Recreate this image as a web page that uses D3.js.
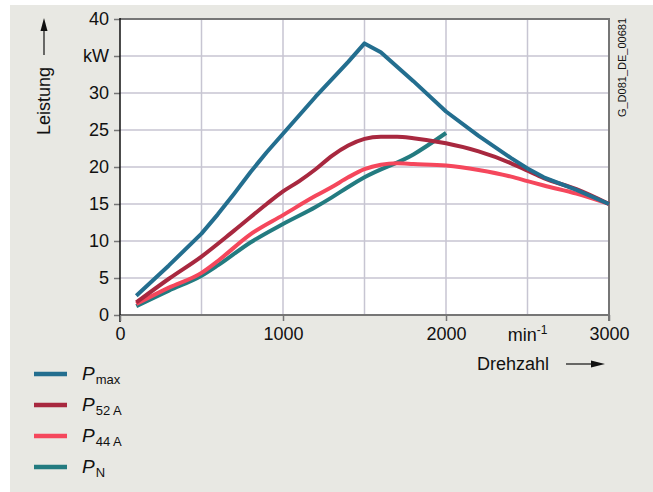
<!DOCTYPE html>
<html><head><meta charset="utf-8">
<script src="https://cdn.jsdelivr.net/npm/d3@7"></script>
<style>body{margin:0;background:#fff}svg{display:block;font-family:"Liberation Sans",Arial,sans-serif}</style>
</head><body><svg id="c" width="653" height="492"></svg>
<script>
// Data
const speedPmax = [100,300,500,600,700,800,900,1000,1200,1400,1500,1600,1800,2000,2200,2400,2500,2600,2800,3000];
const valPmax   = [2.6,6.7,11.0,13.6,16.4,19.3,22.0,24.5,29.5,34.2,36.7,35.5,31.6,27.5,24.2,21.2,19.8,18.6,16.9,15.0];
const speedP52  = [100,300,500,700,900,1000,1100,1200,1300,1400,1500,1600,1700,1800,2000,2200,2400,2500,2600,2800,3000];
const valP52    = [1.7,4.9,7.9,11.4,15.0,16.7,18.1,19.7,21.5,22.9,23.8,24.1,24.1,23.9,23.2,22.1,20.5,19.5,18.5,17.0,15.0];
const speedP44  = [100,300,500,600,800,1000,1200,1300,1400,1500,1600,1700,1800,2000,2200,2400,2500,2600,2800,3000];
const valP44    = [1.5,3.7,5.7,7.3,10.9,13.5,16.1,17.3,18.6,19.7,20.3,20.5,20.4,20.2,19.6,18.7,18.1,17.5,16.4,15.0];
const speedPN   = [100,300,500,600,800,1000,1200,1300,1400,1500,1800,2000];
const valPN     = [1.2,3.3,5.3,6.7,9.8,12.3,14.6,15.9,17.3,18.6,21.7,24.6];
const yTicks = [0,5,10,15,20,25,30,35,40];
const yTickLabels = ["0","5","10","15","20","25","30","kW","40"];
const xGrid = [500,1000,1500,2000,2500];
const xTicks = [0,1000,2000,3000];
const xTickLabels = ["0","1000","2000","3000"];
const seriesNames = [["P","max"],["P","52 A"],["P","44 A"],["P","N"]];
const colors = ["#236e8f","#a8283f","#f5475c","#237b80"];

const svg = d3.select("#c");
svg.append("rect").attr("x",10).attr("y",5).attr("width",643).attr("height",487).attr("fill","#e8e8e3");

const x = d3.scaleLinear().domain([0,3000]).range([120,609]);
const y = d3.scaleLinear().domain([0,40]).range([315,19]);

svg.append("rect").attr("x",x(0)).attr("y",y(40)).attr("width",x(3000)-x(0)).attr("height",y(0)-y(40)).attr("fill","#fff");

// grid
svg.selectAll(".hg").data(yTicks.filter(d=>d>0&&d<40)).enter().append("line")
  .attr("x1",x(0)).attr("x2",x(3000)).attr("y1",d=>y(d)).attr("y2",d=>y(d))
  .attr("stroke","#c7c5d2").attr("stroke-width",1.5);
svg.selectAll(".vg").data(xGrid).enter().append("line")
  .attr("x1",d=>x(d)).attr("x2",d=>x(d)).attr("y1",y(0)).attr("y2",y(40))
  .attr("stroke","#c7c5d2").attr("stroke-width",1.5);

// frame
const fc="#767676";
svg.append("line").attr("x1",x(0)).attr("x2",x(3000)).attr("y1",y(40)).attr("y2",y(40)).attr("stroke",fc).attr("stroke-width",2);
svg.append("line").attr("x1",x(3000)).attr("x2",x(3000)).attr("y1",y(40)-1).attr("y2",y(0)+6).attr("stroke",fc).attr("stroke-width",2);
svg.append("line").attr("x1",x(0)).attr("x2",x(3000)).attr("y1",y(0)).attr("y2",y(0)).attr("stroke",fc).attr("stroke-width",2);

// axes
const yAxis = d3.axisLeft(y).tickValues(yTicks).tickFormat((d,i)=>yTickLabels[i]).tickSize(6).tickPadding(5);
const gy = svg.append("g").attr("transform",`translate(${x(0)},0)`).call(yAxis);
gy.select(".domain").remove();
gy.selectAll(".tick line").attr("stroke",fc).attr("stroke-width",1.5);
gy.selectAll(".tick text").attr("font-size",18).attr("fill","#111").attr("font-family","Liberation Sans, Arial, sans-serif");
svg.append("line").attr("x1",x(0)).attr("x2",x(0)).attr("y1",y(40)-1).attr("y2",y(0)+7).attr("stroke","#111").attr("stroke-width",1.5);

const xAxis = d3.axisBottom(x).tickValues(xTicks).tickFormat((d,i)=>xTickLabels[i]).tickSize(6).tickPadding(6);
const gx = svg.append("g").attr("transform",`translate(0,${y(0)})`).call(xAxis);
gx.select(".domain").remove();
gx.selectAll(".tick line").attr("stroke",fc).attr("stroke-width",1.5);
gx.selectAll(".tick text").attr("font-size",18).attr("fill","#111").attr("font-family","Liberation Sans, Arial, sans-serif");

// min-1 label
const mt = svg.append("text").attr("x",x(2500)).attr("y",341).attr("text-anchor","middle").attr("font-size",18).attr("fill","#111");
mt.append("tspan").text("min");
mt.append("tspan").attr("font-size",12).attr("dy",-7).text("-1");

// series
const lineLin = d3.line().x(d=>x(d[0])).y(d=>y(d[1])).curve(d3.curveLinear);
const lineSm = d3.line().x(d=>x(d[0])).y(d=>y(d[1])).curve(d3.curveMonotoneX);
const series = [
  d3.zip(speedPmax,valPmax), d3.zip(speedP52,valP52), d3.zip(speedP44,valP44), d3.zip(speedPN,valPN)
];
const order=[3,2,1,0];
order.forEach(i=>{
  svg.append("path").attr("d",(i===0?lineLin:lineSm)(series[i])).attr("fill","none").attr("stroke",colors[i])
    .attr("stroke-width",4).attr("stroke-linejoin","round");
});

// axis titles
const lg = svg.append("g").attr("transform","translate(50,101) rotate(-90)");
lg.append("text").attr("text-anchor","middle").attr("font-size",18).attr("fill","#111").text("Leistung");
svg.append("line").attr("x1",44).attr("x2",44).attr("y1",55).attr("y2",28).attr("stroke","#111").attr("stroke-width",1.2);
svg.append("path").attr("d","M44,18 L40.5,31 L47.5,31 Z").attr("fill","#111");

svg.append("text").attr("x",477).attr("y",370).attr("font-size",18).attr("fill","#111").text("Drehzahl");
svg.append("line").attr("x1",566).attr("x2",592).attr("y1",364).attr("y2",364).attr("stroke","#111").attr("stroke-width",1.2);
svg.append("path").attr("d","M605,364 L591,360.5 L591,367.5 Z").attr("fill","#111");

svg.append("text").attr("transform","translate(626,18) rotate(-90)").attr("text-anchor","end")
  .attr("font-size",11).attr("fill","#111").text("G_D081_DE_00681");

// legend
const legY=[374,405,436,467];
seriesNames.forEach((n,i)=>{
  svg.append("line").attr("x1",34).attr("x2",67).attr("y1",legY[i]).attr("y2",legY[i]).attr("stroke",colors[i]).attr("stroke-width",4.5);
  const t=svg.append("text").attr("x",82).attr("y",legY[i]+6).attr("font-size",19).attr("fill","#111");
  t.append("tspan").attr("font-style","italic").text(n[0]);
  t.append("tspan").attr("font-size",13).attr("dy",4).attr("dx",1).text(n[1]);
});
</script></body></html>
